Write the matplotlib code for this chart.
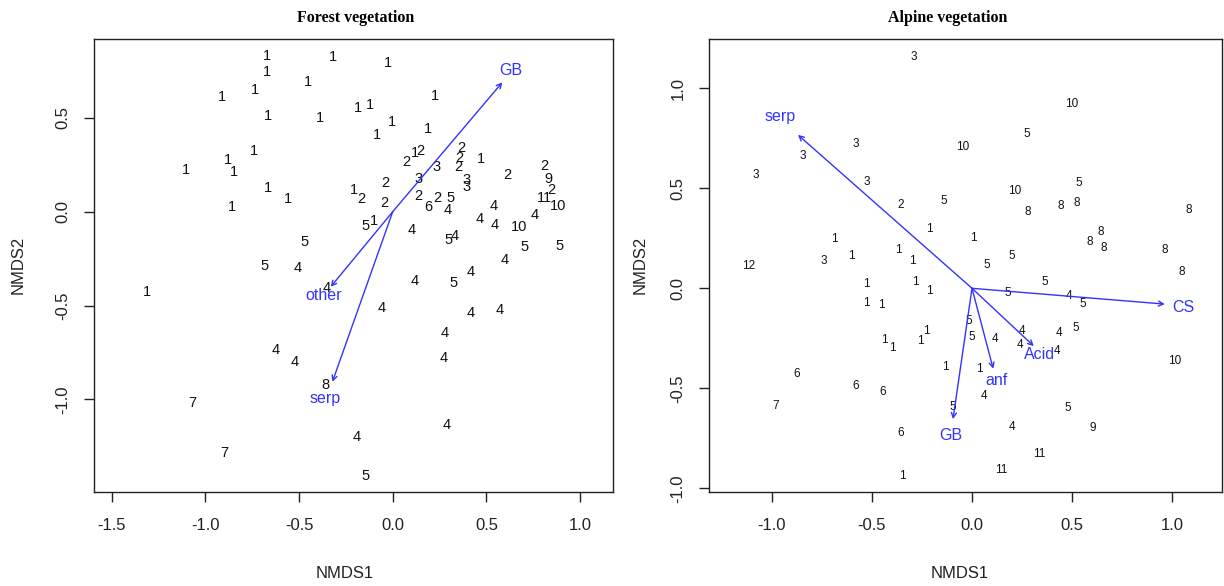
import matplotlib
matplotlib.use("Agg")
import matplotlib.pyplot as plt

# ---------------- Forest vegetation (left) ----------------
forest_labels = ["1","1","1","1","1","1","1","1","1","1","1","1","1","1","1",
                 "1","1","1","1","1","1","1","2","1","2","2","2","3","2","3",
                 "3","1","2","2","9","2","11","10","3","2","1","2","2","2","6",
                 "2","5","4","4","4","4","10","4","5","1","4","5","4","5","5",
                 "4","4","4","5","4","4","4","4","4","4","4","5","5","5","4",
                 "1","4","4","4","8","7","7"]
forest_x = [-0.673,-0.319,-0.673,-0.451,-0.735,-0.913,-0.664,-0.388,-0.739,-0.878,
            -0.846,-1.105,-0.664,-0.561,-0.860,-0.027,-0.184,-0.121,0.226,-0.005,
            -0.085,0.190,0.075,0.119,0.149,0.368,0.356,0.235,0.350,0.395,
            0.395,0.470,0.612,0.808,0.831,0.844,0.808,0.881,0.137,-0.041,
            -0.208,-0.166,-0.046,0.137,0.190,0.239,0.306,0.293,0.541,0.466,
            0.546,0.673,0.760,-0.148,-0.099,0.099,0.297,0.333,0.706,0.889,
            0.600,0.416,0.119,0.327,-0.059,0.416,0.569,0.275,0.270,0.288,
            -0.192,-0.143,-0.472,-0.687,-0.509,-1.313,-0.352,-0.623,-0.522,-0.361,
            -1.068,-0.899]
forest_y = [0.830,0.826,0.746,0.693,0.648,0.613,0.510,0.498,0.325,0.275,
            0.213,0.222,0.125,0.066,0.027,0.794,0.554,0.568,0.618,0.479,
            0.409,0.441,0.263,0.311,0.325,0.338,0.284,0.240,0.237,0.169,
            0.130,0.279,0.196,0.242,0.172,0.116,0.073,0.031,0.172,0.153,
            0.113,0.067,0.048,0.082,0.023,0.073,0.073,0.009,0.030,-0.039,
            -0.071,-0.082,-0.018,-0.079,-0.051,-0.096,-0.153,-0.129,-0.189,-0.184,
            -0.257,-0.323,-0.369,-0.378,-0.515,-0.541,-0.524,-0.645,-0.781,-1.136,
            -1.202,-1.408,-0.160,-0.288,-0.302,-0.426,-0.408,-0.737,-0.802,-0.923,
            -1.018,-1.287]

forest_vec_names = ["GB", "other", "serp"]
forest_vec_x = [0.585, -0.331, -0.322]
forest_vec_y = [0.689, -0.400, -0.906]
forest_lab_x = [0.632, -0.370, -0.361]
forest_lab_y = [0.751, -0.449, -0.998]

# ---------------- Alpine vegetation (right) ----------------
alpine_labels = ["3","3","3","3","3","2","5","1","1","3","1","1","1","12","10",
                 "5","10","10","5","8","8","8","8","1","8","8","8","8","5","5",
                 "8","5","5","4","5","5","5","4","4","5","4","4","4","10","1",
                 "4","5","9","4","11","11","1","1","1","1","1","1","1","1","1",
                 "6","1","6","6","7","5","6","1"]
alpine_x = [-0.290,-0.581,-0.845,-1.083,-0.528,-0.356,-0.141,-0.211,-0.690,-0.740,
            -0.602,-0.370,-0.300,-1.118,0.500,0.276,-0.045,0.214,0.534,0.281,
            0.444,0.523,1.086,0.009,0.643,0.589,0.659,0.964,0.198,0.073,
            1.050,0.364,0.181,0.486,0.553,-0.016,-0.001,0.248,0.434,0.518,
            0.114,0.239,0.423,1.014,0.039,0.059,0.481,0.606,0.198,0.336,
            0.148,-0.528,-0.281,-0.211,-0.530,-0.453,-0.436,-0.400,-0.229,-0.258,
            -0.878,-0.133,-0.581,-0.445,-0.983,-0.098,-0.356,-0.348]
alpine_y = [1.155,0.720,0.662,0.567,0.530,0.417,0.438,0.298,0.245,0.135,
            0.162,0.192,0.138,0.112,0.922,0.772,0.704,0.488,0.525,0.383,
            0.413,0.425,0.392,0.250,0.283,0.233,0.203,0.192,0.162,0.117,
            0.081,0.030,-0.022,-0.039,-0.080,-0.165,-0.242,-0.214,-0.222,-0.200,
            -0.254,-0.284,-0.314,-0.362,-0.405,-0.539,-0.600,-0.700,-0.692,-0.830,
            -0.909,0.022,0.031,-0.015,-0.075,-0.082,-0.259,-0.299,-0.216,-0.266,
            -0.429,-0.392,-0.487,-0.517,-0.589,-0.595,-0.725,-0.939]

alpine_vec_names = ["serp", "CS", "Acid", "anf", "GB"]
alpine_vec_x = [-0.870, 0.964, 0.309, 0.106, -0.095]
alpine_vec_y = [0.767, -0.079, -0.289, -0.402, -0.654]
alpine_lab_x = [-0.961, 1.056, 0.339, 0.123, -0.106]
alpine_lab_y = [0.858, -0.095, -0.329, -0.459, -0.737]

forest_xticks = [-1.5, -1.0, -0.5, 0.0, 0.5, 1.0]
forest_yticks = [-1.0, -0.5, 0.0, 0.5]
alpine_xticks = [-1.0, -0.5, 0.0, 0.5, 1.0]
alpine_yticks = [-1.0, -0.5, 0.0, 0.5, 1.0]

SANS = ["Liberation Sans", "DejaVu Sans"]
SERIF = ["Liberation Serif", "DejaVu Serif"]
BLUE = "#3333ff"
INK = "#222222"

fig = plt.figure(figsize=(12.24, 5.86), dpi=100)
W, H = 1224, 586

def make_ax(l, r, t, b):
    return fig.add_axes([l / W, 1 - b / H, (r - l) / W, (b - t) / H])

def style_ax(ax, xticks, yticks):
    ax.set_xticks(xticks)
    ax.set_yticks(yticks)
    ax.set_xticklabels([f"{v:.1f}" for v in xticks], family=SANS, fontsize=12, color=INK)
    ax.set_yticklabels([f"{v:.1f}" for v in yticks], family=SANS, fontsize=12,
                       rotation=90, va="center", color=INK)
    ax.tick_params(direction="out", length=7, width=1, pad=12, colors=INK)
    ax.tick_params(axis="y", pad=10)
    for s in ax.spines.values():
        s.set_linewidth(1)
        s.set_color(INK)

def draw(ax, labels, xs, ys, fs, vx, vy, names, lx, ly, lfs):
    for lab, x, y in zip(labels, xs, ys):
        ax.text(x, y, lab, ha="center", va="center", fontsize=fs, family=SANS, color="#111111")
    for x, y in zip(vx, vy):
        ax.annotate("", xy=(x, y), xytext=(0, 0),
                    arrowprops=dict(arrowstyle="->,head_length=0.35,head_width=0.18",
                                    color=BLUE, lw=1.0, shrinkA=0, shrinkB=0))
    for n, x, y in zip(names, lx, ly):
        ax.text(x, y, n, ha="center", va="center", fontsize=lfs, family=SANS, color=BLUE)

# left panel
ax1 = make_ax(94, 613, 39, 491.7)
ax1.set_xlim(-1.595, 1.176)
ax1.set_ylim(-1.492, 0.920)
draw(ax1, forest_labels, forest_x, forest_y, 10.5,
     forest_vec_x, forest_vec_y, forest_vec_names, forest_lab_x, forest_lab_y, 11.5)
style_ax(ax1, forest_xticks, forest_yticks)

# right panel
ax2 = make_ax(709, 1222, 39, 491.7)
ax2.set_xlim(-1.315, 1.25)
ax2.set_ylim(-1.017, 1.2465)
draw(ax2, alpine_labels, alpine_x, alpine_y, 8.5,
     alpine_vec_x, alpine_vec_y, alpine_vec_names, alpine_lab_x, alpine_lab_y, 11.5)
style_ax(ax2, alpine_xticks, alpine_yticks)

# titles
fig.text(356 / W, 1 - 18 / H, "Forest vegetation", ha="center", va="center",
         family=SERIF, fontweight="bold", fontsize=11.5)
fig.text(948 / W, 1 - 18 / H, "Alpine vegetation", ha="center", va="center",
         family=SERIF, fontweight="bold", fontsize=11.5)

# axis labels
fig.text(345 / W, 1 - 573 / H, "NMDS1", ha="center", va="center", family=SANS, fontsize=12, color=INK)
fig.text(960 / W, 1 - 573 / H, "NMDS1", ha="center", va="center", family=SANS, fontsize=12, color=INK)
fig.text(18 / W, 1 - 265 / H, "NMDS2", ha="center", va="center", rotation=90, family=SANS, fontsize=12, color=INK)
fig.text(640 / W, 1 - 265 / H, "NMDS2", ha="center", va="center", rotation=90, family=SANS, fontsize=12, color=INK)

fig.savefig("out.png", dpi=100)
